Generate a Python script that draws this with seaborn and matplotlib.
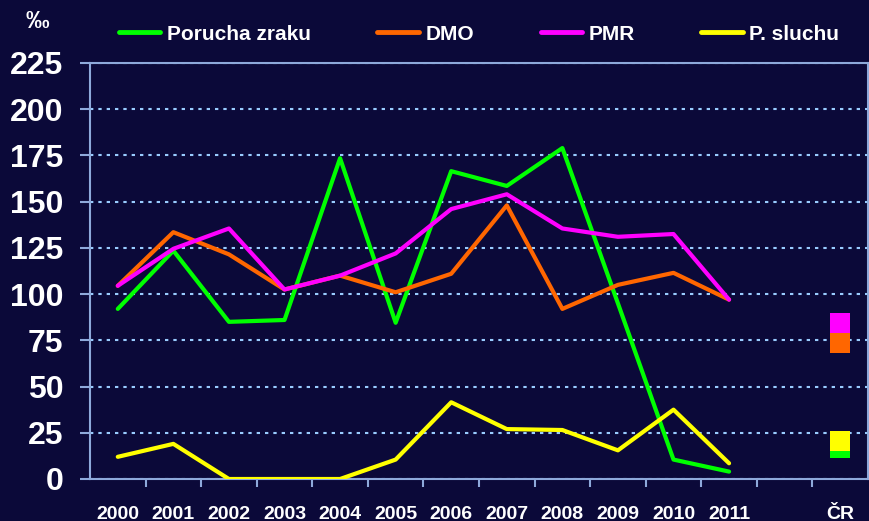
import numpy as np
import pandas as pd
import matplotlib
matplotlib.use("Agg")
import matplotlib.pyplot as plt
import seaborn as sns
from matplotlib.lines import Line2D

years = ["2000", "2001", "2002", "2003", "2004", "2005", "2006",
         "2007", "2008", "2009", "2010", "2011"]
cat_labels = years + ["", "ČR"]

series_names = ["Porucha zraku", "DMO", "PMR", "P. sluchu"]
porucha_zraku = [92, 123.5, 85, 86, 173.5, 84.5, 166.5, 158.5, 179, 95, 10.5, 4]
dmo = [104.5, 133.5, 121.5, 102.5, 110, 101, 111, 148, 92, 105, 111.5, 97]
pmr = [104.5, 124.5, 135.5, 102.5, 110, 122, 146, 154, 135.5, 131, 132.5, 97]
p_sluchu = [12, 19, 0, 0, 0, 10.5, 41.5, 27, 26.5, 15.5, 37.5, 8.5]

# Czech Republic reference values (shown at the "ČR" category)
cr_values = {"Porucha zraku": 16.5, "DMO": 73.5, "PMR": 84.5, "P. sluchu": 20.5}

colors = {"Porucha zraku": "#00FF00", "DMO": "#FF6600",
          "PMR": "#FF00FF", "P. sluchu": "#FFFF00"}

bg = "#0B0939"
spine_c = "#8EA9DB"
grid_c = "#99CCFF"

sns.set_style("dark", {"axes.facecolor": bg, "figure.facecolor": bg})
plt.rcParams["font.family"] = ["Liberation Sans", "DejaVu Sans"]
plt.rcParams["font.weight"] = "bold"

rows = []
for name, vals in zip(series_names, [porucha_zraku, dmo, pmr, p_sluchu]):
    for i, v in enumerate(vals):
        rows.append({"x": i, "value": v, "series": name})
df = pd.DataFrame(rows)

cr_pos = cat_labels.index("ČR")
df_cr = pd.DataFrame({"x": [cr_pos] * 4,
                      "value": [cr_values[n] for n in series_names],
                      "series": series_names})

fig = plt.figure(figsize=(8.69, 5.21), dpi=100)
fig.patch.set_facecolor(bg)
ax = fig.add_axes([90 / 869, 1 - 479 / 521, 778 / 869, 416 / 521])
ax.set_facecolor(bg)

sns.lineplot(data=df, x="x", y="value", hue="series", hue_order=series_names,
             palette=colors, linewidth=3, ax=ax, legend=False, zorder=3)
sns.scatterplot(data=df_cr, x="x", y="value", hue="series", hue_order=series_names,
                palette=colors, marker="s", s=205, linewidth=0, ax=ax,
                legend=False, zorder=4)

ax.set_xlim(-0.5, len(cat_labels) - 0.5)
ax.set_ylim(0, 225)
ax.set_yticks(np.arange(0, 226, 25))
ax.set_xticks(range(len(cat_labels)))
ax.set_xticklabels(cat_labels)
ax.set_xticks(np.arange(0.5, len(cat_labels) - 0.5, 1), minor=True)
ax.set_xlabel("")
ax.set_ylabel("")

ax.yaxis.grid(True, color=grid_c, linestyle=(0, (1.6, 2.4)), linewidth=1.5, zorder=1)
ax.xaxis.grid(False)
ax.set_axisbelow(True)

for s in ax.spines.values():
    s.set_visible(True)
    s.set_color(spine_c)
    s.set_linewidth(1.5)

ax.tick_params(axis="y", which="major", left=True, length=7, width=1.5,
               color=spine_c, labelcolor="white", labelsize=23, pad=12)
ax.tick_params(axis="x", which="major", bottom=True, length=0,
               labelcolor="white", labelsize=14, pad=28.5)
ax.tick_params(axis="x", which="minor", bottom=True, length=6, width=1.5,
               color=spine_c)
for lab in ax.get_xticklabels():
    lab.set_fontweight("bold")
    lab.set_verticalalignment("baseline")
for lab in ax.get_yticklabels():
    lab.set_fontweight("bold")

handles = [Line2D([0], [0], color=colors[n], lw=3.5) for n in series_names]
fig.legend(handles, series_names, loc="center", bbox_to_anchor=(479 / 869, 1 - 34 / 521),
           ncol=4, frameon=False, handlelength=2.0,
           handletextpad=0.3, columnspacing=3.2, labelcolor="white",
           prop={"weight": "bold", "size": 15})

fig.text(37 / 869, 1 - 22 / 521, "‰", color="white", fontsize=17,
         fontweight="bold", ha="center", va="center")

fig.savefig("out.png", dpi=100, facecolor=bg)
